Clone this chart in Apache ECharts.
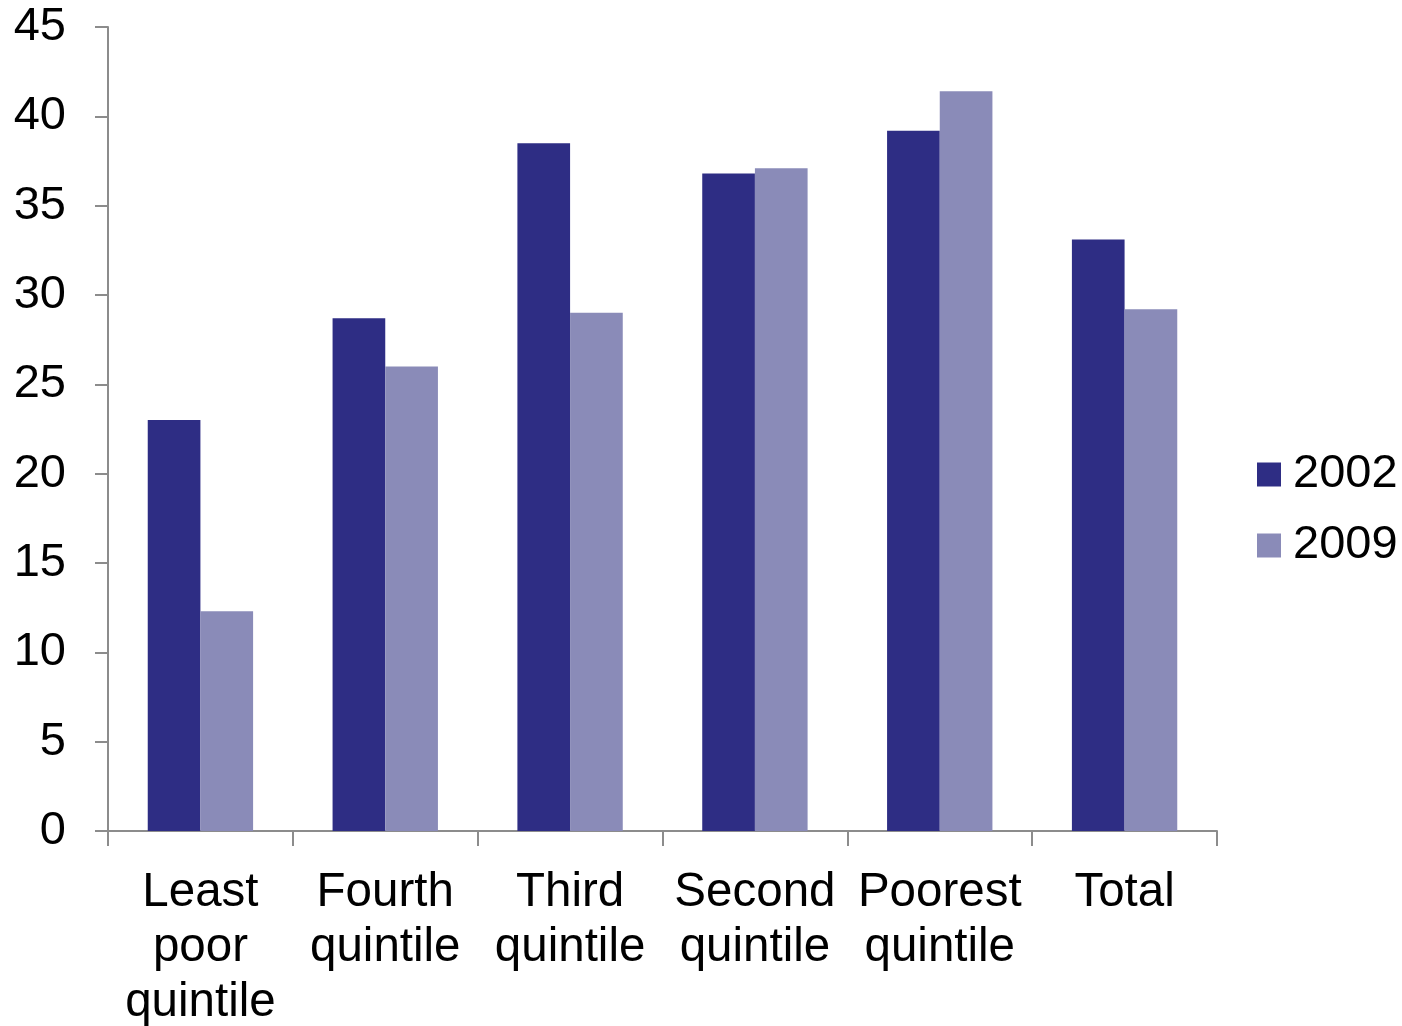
<!DOCTYPE html>
<html>
<head>
<meta charset="utf-8">
<script src="https://cdn.jsdelivr.net/npm/echarts@6/dist/echarts.min.js"></script>
<style>
  html, body { margin: 0; padding: 0; background: #ffffff; }
  #chart { width: 1402px; height: 1026px; }
</style>
</head>
<body>
<div id="chart"></div>
<script>
// Quintile groups shown along the x axis
const categories = ['Least\npoor\nquintile', 'Fourth\nquintile', 'Third\nquintile', 'Second\nquintile', 'Poorest\nquintile', 'Total'];
// Values per survey year
const values2002 = [23.0, 28.7, 38.5, 36.8, 39.2, 33.1];
const values2009 = [12.3, 26.0, 29.0, 37.1, 41.4, 29.2];
const seriesNames = ['2002', '2009'];

const axisGrey = '#8c8c8c';
const fontFamily = '"Liberation Sans", Arial, sans-serif';

const chart = echarts.init(document.getElementById('chart'), null, { renderer: 'canvas' });
chart.setOption({
  animation: false,
  backgroundColor: '#ffffff',
  grid: { left: 108, right: 185, top: 27, bottom: 195, containLabel: false, outerBoundsMode: 'none' },
  legend: {
    orient: 'vertical',
    left: 1257,
    top: 451,
    padding: 0,
    itemWidth: 24,
    itemHeight: 24,
    itemGap: 24,
    icon: 'rect',
    data: seriesNames,
    textStyle: { fontFamily: fontFamily, fontSize: 47, color: '#000', lineHeight: 45, padding: [0, 0, 0, 7] }
  },
  xAxis: {
    type: 'category',
    data: categories,
    boundaryGap: true,
    axisLine: { lineStyle: { color: axisGrey, width: 2 } },
    axisTick: { show: true, length: 15, lineStyle: { color: axisGrey, width: 2 } },
    axisLabel: {
      interval: 0,
      margin: 34,
      fontFamily: fontFamily,
      fontSize: 47.5,
      lineHeight: 55,
      color: '#000'
    }
  },
  yAxis: {
    type: 'value',
    min: 0,
    max: 45,
    interval: 5,
    splitLine: { show: false },
    axisLine: { show: true, lineStyle: { color: axisGrey, width: 2 } },
    axisTick: { show: true, length: 13, lineStyle: { color: axisGrey, width: 2 } },
    axisLabel: {
      margin: 42,
      fontFamily: fontFamily,
      fontSize: 47,
      color: '#000'
    }
  },
  series: [
    {
      name: seriesNames[0],
      type: 'bar',
      data: values2002,
      barGap: '0%',
      barCategoryGap: '43%',
      itemStyle: { color: '#2e2d84' }
    },
    {
      name: seriesNames[1],
      type: 'bar',
      data: values2009,
      barGap: '0%',
      barCategoryGap: '43%',
      itemStyle: { color: '#8a8bb8' }
    }
  ]
});
</script>
</body>
</html>
